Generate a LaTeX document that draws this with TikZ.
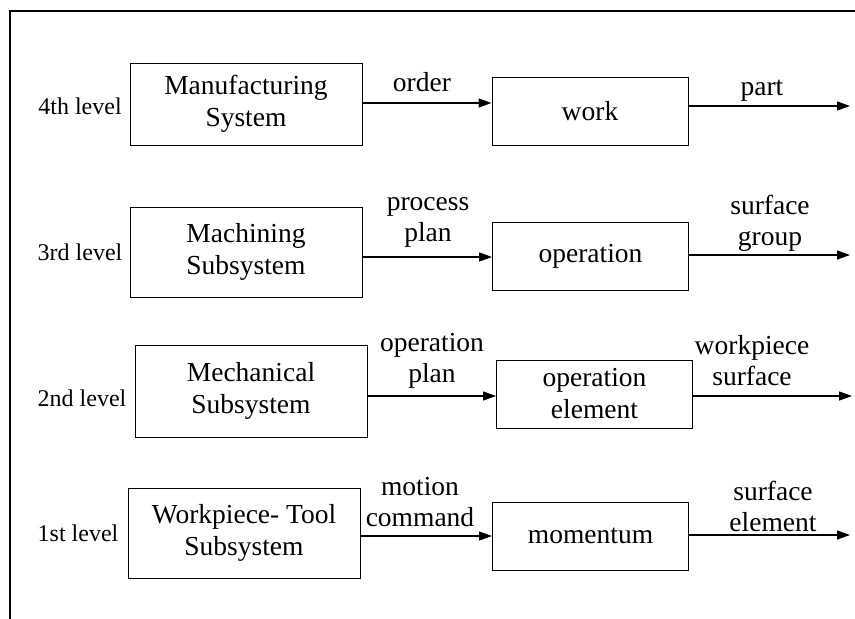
\documentclass[tikz,border=0pt]{standalone}
\usepackage{fontspec}
\setmainfont{Liberation Serif}
\usetikzlibrary{arrows.meta}
\begin{document}
\begin{tikzpicture}[x=1pt,y=-1pt,
  sysbox/.style={draw, line width=1pt, minimum width=232pt, minimum height=90pt,
    align=center, font=\fontsize{27.5}{32}\selectfont, inner sep=0pt},
  outbox/.style={draw, line width=1pt, minimum width=196pt, minimum height=68pt,
    align=center, font=\fontsize{27.5}{32}\selectfont, inner sep=0pt},
  lvl/.style={font=\fontsize{24}{28}\selectfont, inner sep=0pt},
  lbl/.style={align=center, font=\fontsize{27.5}{31}\selectfont, inner sep=0pt},
  flow/.style={line width=1.3pt, -{Triangle[length=13pt,width=9pt]}}]
\useasboundingbox (0,0) rectangle (855,619);
% frame
\coordinate (ftl) at (10,11);
\coordinate (ftr) at (855,11);
\coordinate (fbl) at (10,619);
\draw[line width=2pt] (ftr) -- (ftl) -- (fbl);

% level captions
\node[lvl] (l4) at (80,106) {4th level};
\node[lvl] (l3) at (80,252) {3rd level};
\node[lvl] (l2) at (82,398) {2nd level};
\node[lvl] (l1) at (78,533) {1st level};

% 4th level
\node[sysbox, minimum height=82pt] (s4) at (246,104) {Manufacturing\\System};
\node[outbox] (o4) at (590,111) {work};
\coordinate (e4) at (850,106);
\draw[flow] (s4.east |- 0,103) -- (o4.west |- 0,103);
\draw[flow] (o4.east |- e4) -- (e4);
\node[lbl] (a4) at (422,82) {order};
\node[lbl] (b4) at (762,91) {part};

% 3rd level
\node[sysbox] (s3) at (246,252) {Machining\\Subsystem};
\node[outbox] (o3) at (590.5,256) {operation};
\coordinate (e3) at (850,255);
\draw[flow] (s3.east |- 0,257) -- (o3.west |- 0,257);
\draw[flow] (o3.east |- e3) -- (e3);
\node[lbl] (a3) at (428,222) {process\\plan};
\node[lbl] (b3) at (770,223) {surface\\group};

% 2nd level
\node[sysbox, minimum height=92pt] (s2) at (251,391) {Mechanical\\Subsystem};
\node[outbox] (o2) at (594.5,394) {operation\\element};
\coordinate (e2) at (852,396);
\draw[flow] (s2.east |- e2) -- (o2.west |- e2);
\draw[flow] (o2.east |- e2) -- (e2);
\node[lbl] (a2) at (432,361) {operation\\plan};
\node[lbl] (b2) at (752,361) {workpiece\\surface};

% 1st level
\node[sysbox] (s1) at (244,533) {Workpiece- Tool\\Subsystem};
\node[outbox] (o1) at (590.5,536) {momentum};
\coordinate (e1) at (850,535);
\draw[flow] (s1.east |- 0,536) -- (o1.west |- 0,536);
\draw[flow] (o1.east |- e1) -- (e1);
\node[lbl] (a1) at (420,502) {motion\\command};
\node[lbl] (b1) at (773,506) {surface\\element};
\end{tikzpicture}
\end{document}
